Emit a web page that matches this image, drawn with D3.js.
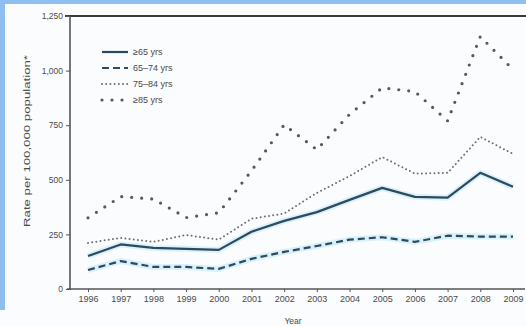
<!DOCTYPE html>
<html>
<head>
<meta charset="utf-8">
<script src="https://cdn.jsdelivr.net/npm/d3@7/dist/d3.min.js"></script>
<style>
  html, body { margin: 0; padding: 0; background: #ffffff; }
  svg { display: block; font-family: "Liberation Sans", Arial, sans-serif; }
</style>
</head>
<body>
<svg id="chart" width="526" height="326"></svg>
<script>
// Years on the x axis
const years = [1996, 1997, 1998, 1999, 2000, 2001, 2002, 2003, 2004, 2005, 2006, 2007, 2008, 2009];

// Rates per 100,000 population by age group
const age65plus = [151, 204, 188, 184, 179, 262, 312, 352, 408, 463, 422, 418, 532, 468];
const age65to74 = [87, 128, 101, 101, 92, 138, 170, 197, 226, 237, 216, 244, 240, 240];
const age75to84 = [211, 234, 216, 247, 226, 322, 345, 440, 517, 604, 528, 532, 696, 619];
const age85plus = [326, 423, 412, 327, 349, 541, 752, 638, 800, 921, 904, 770, 1156, 1005];

const yTicks = [0, 250, 500, 750, 1000, 1250];
const seriesNames = ["\u226565 yrs", "65\u201374 yrs", "75\u201384 yrs", "\u226585 yrs"];

const svg = d3.select("#chart");
const W = 526, H = 326;

// page frame
svg.append("rect").attr("width", W).attr("height", H).attr("fill", "#fbfcfe");
svg.append("rect").attr("x", 0).attr("y", 0).attr("width", W).attr("height", 4).attr("fill", "#8fbff0");
svg.append("rect").attr("x", 0).attr("y", 0).attr("width", 5).attr("height", 310).attr("fill", "#8fbff0");

const x = d3.scaleLinear().domain([1996, 2009]).range([88, 513]);
const y = d3.scaleLinear().domain([0, 1250]).range([289, 16]);

const axisColor = "#555";
const labelColor = "#4a4a4a";

// top rule
svg.append("line").attr("x1", 65).attr("x2", W).attr("y1", y(1250)).attr("y2", y(1250))
  .attr("stroke", "#3a3a3a").attr("stroke-width", 1.8);

// y axis
const gy = svg.append("g").attr("transform", "translate(70,0)")
  .call(d3.axisLeft(y).tickValues(yTicks).tickFormat(d3.format(",")).tickSize(4).tickSizeOuter(0));
gy.select(".domain").remove();
gy.selectAll(".tick line").attr("stroke", axisColor).attr("stroke-width", 1);
gy.selectAll(".tick text").attr("fill", labelColor).attr("font-size", 8.5).attr("x", -7);
svg.append("line").attr("x1", 70).attr("x2", 70).attr("y1", y(1250)).attr("y2", y(0) + 1)
  .attr("stroke", axisColor).attr("stroke-width", 1.6);

// x axis
const gx = svg.append("g").attr("transform", `translate(0,${y(0)})`)
  .call(d3.axisBottom(x).tickValues(years).tickFormat(d3.format("d")).tickSize(3).tickSizeOuter(0));
gx.select(".domain").remove();
gx.selectAll(".tick line").attr("stroke", axisColor).attr("stroke-width", 1);
gx.selectAll(".tick text").attr("fill", labelColor).attr("font-size", 9).attr("y", 7);
svg.append("line").attr("x1", 67).attr("x2", 525).attr("y1", y(0)).attr("y2", y(0))
  .attr("stroke", axisColor).attr("stroke-width", 1.6);

// axis titles
svg.append("text").attr("x", 293).attr("y", 324).attr("text-anchor", "middle")
  .attr("font-size", 8.5).attr("fill", labelColor).text("Year");
svg.append("text").attr("transform", "translate(30,141) rotate(-90)")
  .attr("text-anchor", "middle").attr("font-size", 9).attr("fill", labelColor)
  .attr("textLength", 172).attr("lengthAdjust", "spacingAndGlyphs")
  .text("Rate per 100,000 population*");

const line = d3.line().x((d, i) => x(years[i])).y(d => y(d));

const styles = [
  { data: age65plus, color: "#2d4b5e", width: 2.2, dash: null, cap: "butt", halo: true },
  { data: age65to74, color: "#2d4b5e", width: 2.2, dash: "7,4", cap: "butt", halo: true },
  { data: age75to84, color: "#6a6f74", width: 2, dash: "0,4.2", cap: "round", halo: false },
  { data: age85plus, color: "#55595e", width: 3.2, dash: "0,10", cap: "round", halo: false }
];

// soft halo under the solid and dashed lines
styles.filter(s => s.halo).forEach(s => {
  svg.append("path").datum(s.data).attr("d", line).attr("fill", "none")
    .attr("stroke", "#d9f1fa").attr("stroke-width", 6).attr("stroke-linejoin", "round");
});

styles.forEach(s => {
  svg.append("path").datum(s.data).attr("d", line).attr("fill", "none")
    .attr("stroke", s.color).attr("stroke-width", s.width)
    .attr("stroke-dasharray", s.dash).attr("stroke-linecap", s.cap)
    .attr("stroke-linejoin", "round");
});

// legend
const legendRows = [52, 68, 84, 100];
styles.forEach((s, i) => {
  const ly = legendRows[i];
  svg.append("path").attr("d", d3.line()([[102, ly], [128, ly]])).attr("fill", "none")
    .attr("stroke", s.color).attr("stroke-width", s.width)
    .attr("stroke-dasharray", s.dash).attr("stroke-linecap", s.cap);
  svg.append("text").attr("x", 133).attr("y", ly + 3.2).attr("font-size", 9)
    .attr("fill", labelColor).text(seriesNames[i]);
});
</script>
</body>
</html>
